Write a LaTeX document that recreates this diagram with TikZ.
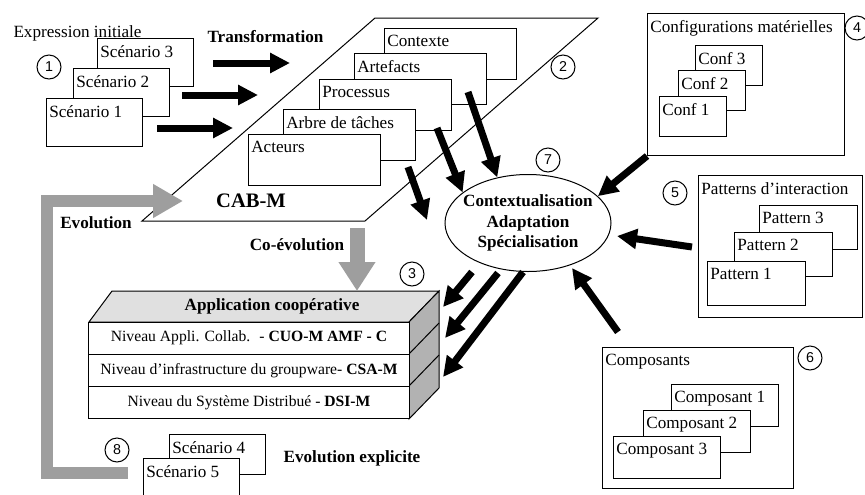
\documentclass[tikz,border=0pt,12pt]{standalone}
\usepackage{fontspec}
\setmainfont{Liberation Serif}
\setsansfont{Liberation Sans}
\usetikzlibrary{arrows.meta,shapes.geometric}

\tikzset{
  card/.style={draw, fill=white, anchor=north west, inner sep=0pt},
  tag/.style={anchor=north west, inner xsep=2pt, inner ysep=5pt},
  num/.style={draw, circle, fill=white, minimum size=16.8pt, inner sep=0pt, font=\sffamily\footnotesize},
  fat/.style={line width=4.9pt, -{Triangle[length=14pt,width=13.5pt]}},
  halftone/.style={draw=black!38, line join=miter},
  level/.style={draw, fill=white, minimum width=224pt, minimum height=22.6pt, inner sep=0pt, font=\small},
  head/.style={font=\bfseries},
}

\begin{document}
\begin{tikzpicture}[x=0.7pt, y=-0.7pt, line width=0.7pt]
  \useasboundingbox (0,0) rectangle (865,494);

  \foreach \n/\x/\y in {3/97/38, 2/73/68, 1/46/98}
    \node[card, minimum width=67.2pt, minimum height=33.6pt, label={[tag]north west:Scénario \n}] (scen\n) at (\x,\y) {};
  \node[anchor=west, inner sep=0pt] (expr) at (13,33) {Expression initiale};
  \node[head, anchor=west, inner sep=0pt] (transf) at (207,37) {Transformation};

  \draw (142,221) -- (365,221) -- (598,18) -- (375,18) -- cycle;
  \foreach \n/\t/\x/\y in {ctx/Contexte/384/28, art/Artefacts/354/53, proc/Processus/319/79, tree/Arbre de tâches/283/109, act/Acteurs/248/134}
    \node[card, minimum width=92.4pt, minimum height=35.7pt, label={[tag]north west:\t}] (\n) at (\x,\y) {};
  \node[font=\large\bfseries] (cab) at (251,201) {CAB-M};

  \node[card, minimum width=137.9pt, minimum height=99.4pt, label={[tag]north west:Configurations matérielles}] (confbox) at (647,13) {};
  \foreach \n/\x/\y in {3/695/45, 2/678/70, 1/659/96}
    \node[card, minimum width=46.9pt, minimum height=28pt, label={[tag]north west:Conf \n}] (conf\n) at (\x,\y) {};

  \node[card, minimum width=114.8pt, minimum height=99.4pt, label={[tag]north west:Patterns d'interaction}] (patbox) at (698,175) {};
  \foreach \n/\x/\y in {3/759/205, 2/734/232, 1/707/261}
    \node[card, minimum width=68.6pt, minimum height=30.8pt, label={[tag]north west:Pattern \n}] (pat\n) at (\x,\y) {};

  \node[card, minimum width=133.7pt, minimum height=98.7pt, label={[tag]north west:Composants}] (compbox) at (602,347) {};
  \foreach \n/\x/\y in {1/671/384, 2/643/410, 3/613/436}
    \node[card, minimum width=74.9pt, minimum height=29.4pt, label={[tag]north west:Composant \n}] (comp\n) at (\x,\y) {};

  \foreach \n/\x/\y in {4/169/434, 5/143/458}
    \node[card, minimum width=67.2pt, minimum height=28pt, label={[tag]north west:Scénario \n}] (scen\n) at (\x,\y) {};

  \draw[fill=black!12] (89,322) -- (112,291) -- (439,291) -- (409,322) -- cycle;
  \draw[fill=black!30] (409,322) -- (439,291) -- (439,388) -- (409,419) -- cycle;
  \draw (409,354) -- (439,323) (409,386) -- (439,355);
  \node[head] (app) at (272,306) {Application coopérative};
  \node[level] (lvl1) at (249,338.2) {Niveau Appli. Collab.~ - \textbf{CUO-M AMF - C}};
  \node[level] (lvl2) at (249,370.5) {Niveau d'infrastructure du groupware- \textbf{CSA-M}};
  \node[level] (lvl3) at (249,402.8) {Niveau du Système Distribué - \textbf{DSI-M}};

  \node[ellipse, draw, fill=white, minimum width=116.2pt, minimum height=67.9pt, inner sep=0pt] (ell) at (528,223) {};
  \node[align=center, font=\bfseries] (ctxt) at (ell.center) {Contextualisation\\Adaptation\\Spécialisation};

  \foreach \n/\x/\y in {1/49/67, 2/563/67, 3/412/274, 4/857/28, 5/675/193, 6/810/358, 7/548/160, 8/117/450}
    \node[num] (n\n) at (\x,\y) {\n};

  \node[head] (evo) at (96,223) {Evolution};
  \node[head] (coevo) at (297,245) {Co-évolution};
  \node[head] (expl) at (352,458) {Evolution explicite};

  \coordinate (back) at (128,473);
  \coordinate (backend) at (183,201);
  \draw[halftone, line width=8.4pt, -{Triangle[length=21pt,width=22.4pt]}] (back) -- (47,473) -- (47,201) -- (backend);
  \coordinate (coev) at (357,228);
  \coordinate (coevend) at (357,291);
  \draw[halftone, line width=10.5pt, -{Triangle[length=20.3pt,width=24.5pt]}] (coev) -- (coevend);

  \foreach \n/\xa/\ya/\xb/\yb in {tr1/213/63/290/63, tr2/182/95/258/95, tr3/157/128/233/128,
      cab3/408/167/427/220, comp/618/332/572/268, pat/692/247/617/236,
      app1/472/272/443/307, app2/498/273/445/338, app3/523/272/443/377}
    \draw[fat] (\xa,\ya) coordinate (\n-from) -- (\xb,\yb) coordinate (\n-to);
  \draw[fat] (468,92) coordinate (cab1-from) -- (ell.124);
  \draw[fat] (437,128) coordinate (cab2-from) -- (ell.155);
  \draw[fat] (confbox.south west) -- (ell.21);
\end{tikzpicture}
\end{document}
